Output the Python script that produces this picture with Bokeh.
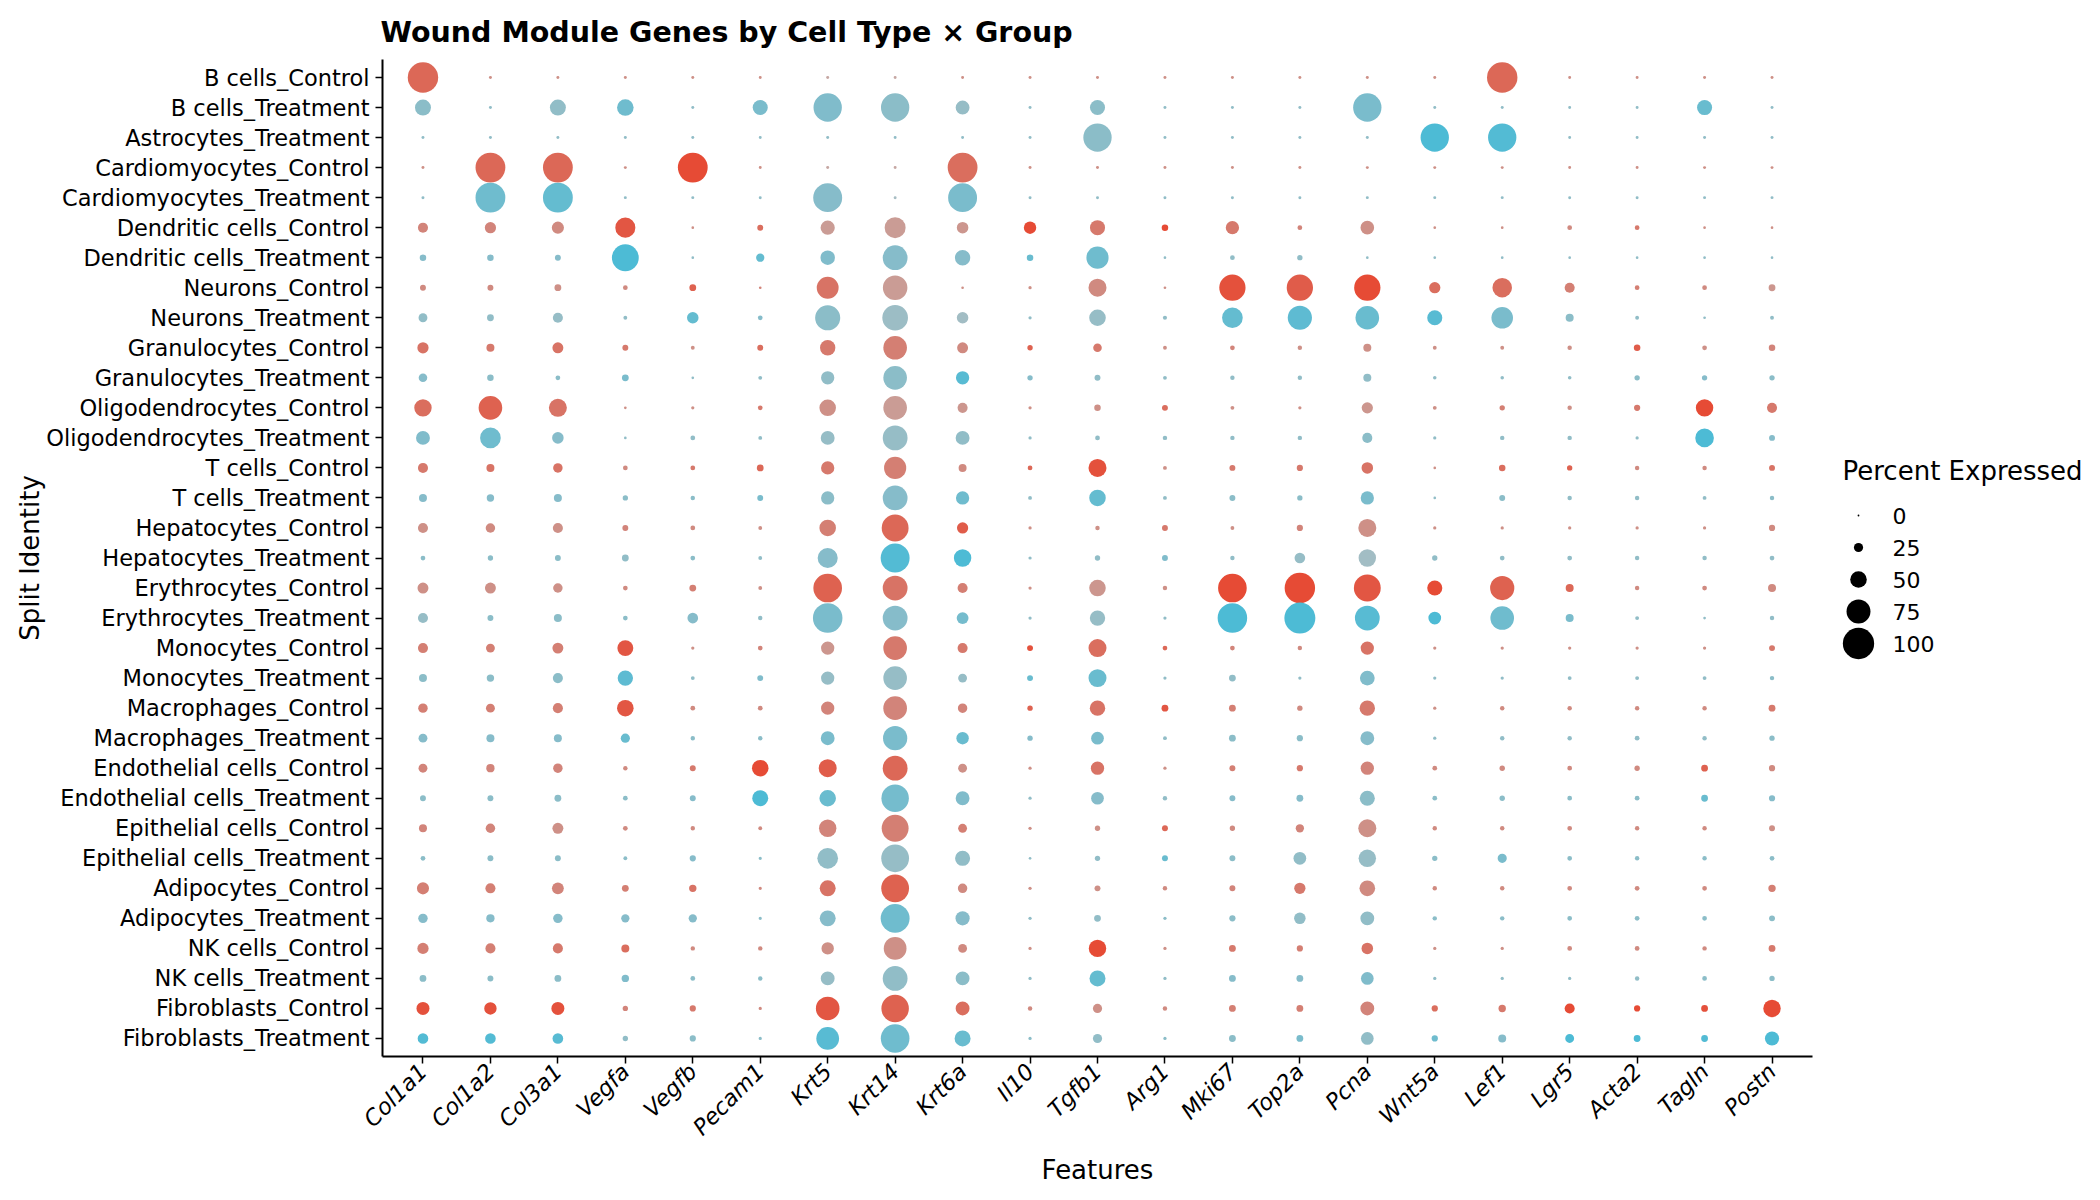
import math
from bokeh.plotting import figure
from bokeh.models import Range1d, FixedTicker, ColumnDataSource
from bokeh.layouts import row
from bokeh.embed import file_html
from bokeh.resources import INLINE

genes = ["Col1a1", "Col1a2", "Col3a1", "Vegfa", "Vegfb", "Pecam1", "Krt5", "Krt14", "Krt6a", "Il10", "Tgfb1",
         "Arg1", "Mki67", "Top2a", "Pcna", "Wnt5a", "Lef1", "Lgr5", "Acta2", "Tagln", "Postn"]

row_labels = ["B cells_Control", "B cells_Treatment", "Astrocytes_Treatment", "Cardiomyocytes_Control",
              "Cardiomyocytes_Treatment", "Dendritic cells_Control", "Dendritic cells_Treatment",
              "Neurons_Control", "Neurons_Treatment", "Granulocytes_Control", "Granulocytes_Treatment",
              "Oligodendrocytes_Control", "Oligodendrocytes_Treatment", "T cells_Control", "T cells_Treatment",
              "Hepatocytes_Control", "Hepatocytes_Treatment", "Erythrocytes_Control", "Erythrocytes_Treatment",
              "Monocytes_Control", "Monocytes_Treatment", "Macrophages_Control", "Macrophages_Treatment",
              "Endothelial cells_Control", "Endothelial cells_Treatment", "Epithelial cells_Control",
              "Epithelial cells_Treatment", "Adipocytes_Control", "Adipocytes_Treatment", "NK cells_Control",
              "NK cells_Treatment", "Fibroblasts_Control", "Fibroblasts_Treatment"]

# percent expressed per row (genes in order above)
pct01 = [97, 4, 4, 4, 4, 4, 4, 4, 4, 4, 4, 4, 4, 4, 4, 4, 97, 4, 4, 4, 4]
pct02 = [48, 4, 48, 50, 4, 45, 90, 90, 41, 4, 45, 4, 4, 4, 90, 4, 4, 4, 4, 45, 4]
pct03 = [4, 4, 4, 4, 4, 4, 4, 4, 4, 4, 90, 4, 4, 4, 4, 90, 90, 4, 4, 4, 4]
pct04 = [4, 95, 95, 4, 95, 4, 4, 4, 95, 4, 4, 4, 4, 4, 4, 4, 4, 4, 4, 4, 4]
pct05 = [4, 95, 95, 4, 4, 4, 92, 4, 92, 4, 4, 4, 4, 4, 4, 4, 4, 4, 4, 4, 4]
pct06 = [28, 32, 35, 62, 3, 14, 42, 65, 33, 36, 45, 16, 39, 10, 40, 3, 3, 10, 10, 3, 3]
pct07 = [16, 16, 14, 85, 3, 22, 43, 78, 46, 16, 69, 3, 10, 12, 3, 3, 3, 3, 3, 3, 3]
pct08 = [14, 14, 17, 10, 17, 3, 68, 77, 3, 5, 55, 3, 83, 83, 83, 32, 60, 28, 10, 10, 17]
pct09 = [24, 17, 28, 7, 33, 10, 79, 81, 33, 5, 50, 8, 64, 76, 74, 45, 67, 21, 7, 3, 7]
pct10 = [32, 21, 31, 14, 7, 14, 46, 74, 31, 12, 23, 7, 10, 9, 21, 7, 7, 9, 16, 10, 16]
pct11 = [23, 16, 10, 17, 3, 7, 39, 74, 39, 12, 14, 7, 9, 9, 21, 6, 6, 6, 12, 12, 12]
pct12 = [53, 74, 55, 3, 5, 10, 50, 74, 28, 5, 16, 14, 7, 5, 32, 7, 12, 9, 15, 53, 28]
pct13 = [41, 64, 33, 3, 10, 7, 41, 78, 41, 5, 10, 9, 9, 9, 28, 5, 9, 9, 5, 57, 14]
pct14 = [28, 21, 26, 10, 10, 17, 39, 69, 21, 10, 55, 7, 14, 15, 33, 3, 16, 12, 9, 9, 14]
pct15 = [21, 19, 21, 12, 9, 14, 39, 78, 39, 7, 50, 7, 14, 12, 39, 3, 14, 9, 9, 7, 9]
pct16 = [28, 26, 28, 14, 10, 7, 50, 85, 32, 5, 9, 14, 7, 15, 55, 5, 5, 5, 5, 5, 15]
pct17 = [10, 12, 14, 17, 10, 7, 62, 92, 53, 5, 12, 14, 9, 30, 53, 12, 10, 10, 9, 9, 10]
pct18 = [31, 31, 26, 10, 17, 7, 91, 78, 28, 5, 50, 9, 91, 97, 85, 45, 76, 21, 9, 10, 21]
pct19 = [28, 14, 21, 10, 30, 9, 94, 78, 34, 5, 46, 5, 94, 99, 78, 37, 74, 21, 7, 3, 9]
pct20 = [28, 24, 31, 48, 5, 10, 39, 74, 28, 14, 55, 10, 10, 9, 39, 5, 5, 5, 5, 5, 14]
pct21 = [21, 19, 28, 46, 7, 14, 39, 74, 24, 14, 55, 5, 17, 5, 44, 5, 5, 7, 7, 7, 9]
pct22 = [26, 24, 28, 50, 10, 10, 39, 74, 26, 12, 46, 17, 17, 12, 46, 5, 9, 9, 9, 9, 17]
pct23 = [24, 21, 21, 25, 9, 9, 41, 76, 36, 12, 37, 7, 17, 15, 41, 5, 9, 9, 10, 9, 12]
pct24 = [24, 22, 26, 9, 14, 50, 55, 78, 24, 5, 39, 5, 14, 15, 39, 10, 12, 10, 12, 17, 15]
pct25 = [14, 14, 17, 10, 14, 48, 50, 87, 41, 5, 37, 9, 14, 17, 45, 10, 12, 10, 10, 17, 15]
pct26 = [21, 26, 31, 10, 9, 7, 53, 85, 24, 5, 12, 14, 12, 22, 55, 9, 9, 10, 9, 9, 14]
pct27 = [10, 14, 14, 7, 15, 5, 64, 88, 45, 3, 12, 14, 14, 37, 53, 12, 25, 10, 9, 9, 10]
pct28 = [35, 28, 34, 17, 19, 5, 48, 88, 26, 5, 14, 9, 14, 32, 47, 9, 9, 10, 10, 10, 19]
pct29 = [26, 22, 26, 22, 22, 5, 48, 92, 42, 5, 17, 5, 15, 33, 41, 9, 9, 10, 10, 10, 14]
pct30 = [32, 28, 28, 21, 9, 9, 36, 71, 24, 5, 53, 5, 17, 15, 33, 5, 5, 10, 10, 9, 17]
pct31 = [17, 14, 17, 19, 10, 9, 41, 78, 41, 5, 48, 5, 17, 17, 37, 5, 5, 5, 9, 10, 12]
pct32 = [38, 36, 38, 12, 15, 5, 74, 87, 41, 9, 25, 9, 17, 17, 41, 15, 19, 28, 15, 17, 53]
pct33 = [30, 30, 30, 12, 15, 5, 71, 91, 48, 5, 25, 5, 17, 17, 37, 15, 21, 24, 17, 17, 42]

# scaled average expression (0 = grey, 10 = full group colour)
exp01 = [7.5, 4, 4, 4, 4, 4, 2, 2, 4, 4, 4, 4, 4, 4, 4, 4, 7.5, 4, 4, 4, 4]
exp02 = [4.5, 4, 4, 7, 4, 6, 5.5, 4.5, 3.5, 4, 4.5, 4, 4, 4, 6, 4, 4, 4, 4, 7.5, 4]
exp03 = [4, 4, 4, 4, 4, 4, 4, 4, 4, 4, 4.5, 4, 4, 4, 4, 10, 9.5, 4, 4, 4, 4]
exp04 = [4, 7.5, 7.5, 4, 10, 4, 2, 2, 7, 4, 4, 4, 4, 4, 4, 4, 4, 4, 4, 4, 4]
exp05 = [4, 7, 8, 4, 4, 4, 5, 2, 6, 4, 4, 4, 4, 4, 4, 4, 4, 4, 4, 4, 4]
exp06 = [5, 5, 4.5, 9, 4, 7, 3, 3, 3.5, 10, 6, 10, 6, 5, 4, 4, 4, 4.5, 6, 4, 4]
exp07 = [5, 5, 5, 10, 4, 8, 5.5, 5, 5, 7.5, 7, 4, 4, 4, 4, 4, 4, 4, 4, 4, 4]
exp08 = [4.5, 4.5, 4, 4.5, 8, 5, 6.5, 3, 4, 4, 4.5, 4, 9.5, 8.5, 10, 7, 7, 5.5, 5.5, 4.5, 3.5]
exp09 = [4, 4, 3.5, 4, 8, 5, 4.5, 3, 2.5, 4, 3.5, 4, 8, 8.5, 7.5, 9, 6, 4.5, 4, 4, 4]
exp10 = [6.5, 6, 6.5, 6, 4, 7, 6, 5.5, 4.5, 8, 6, 4, 5, 4, 4, 4, 4, 4, 8.5, 4, 5]
exp11 = [5, 4.5, 4.5, 6, 4, 4, 4, 4.5, 9, 5, 4, 4, 4, 4, 4, 4, 4, 4, 4.5, 5, 4.5]
exp12 = [7, 8, 6.5, 4, 4, 6, 4, 3, 3.5, 4, 4, 7, 4, 4, 3.5, 4, 5.5, 4, 6, 10, 6]
exp13 = [5.5, 7, 5, 4, 4, 4, 3.5, 3.5, 4, 4, 4, 4, 4, 4, 4.5, 4, 4, 4, 4, 10, 5]
exp14 = [6, 6.5, 6.5, 4.5, 6, 7.5, 6, 5.5, 4.5, 7.5, 9.5, 4, 6, 6, 6.5, 4, 7, 8, 4.5, 4.5, 6.5]
exp15 = [5, 5, 5, 4.5, 4.5, 6, 4.5, 5, 7, 4, 8, 4, 4.5, 4.5, 6, 4, 4.5, 4, 4, 4, 4.5]
exp16 = [4, 4.5, 4, 5, 4.5, 4, 5.5, 7.5, 8.5, 4, 4, 6, 4, 5, 4, 4, 4, 4, 4, 4, 4.5]
exp17 = [4.5, 4.5, 4.5, 4, 4.5, 4, 5, 9.5, 10, 4, 4, 5.5, 4, 3.5, 2.5, 4, 4, 4, 4, 4, 4]
exp18 = [4, 4, 4, 4.5, 5.5, 4, 8, 6.5, 5.5, 4, 3.5, 4, 10, 10, 9, 10, 8, 7.5, 4.5, 4.5, 4.5]
exp19 = [3.5, 4.5, 4.5, 4.5, 5, 4, 6, 5, 6.5, 4, 3.5, 4, 10, 10, 9, 10, 7, 6, 4, 4, 4]
exp20 = [5.5, 5.5, 5.5, 9, 4, 5, 3.5, 6, 6, 9.5, 7, 7.5, 5, 4.5, 6.5, 4, 4, 4, 4, 4, 6]
exp21 = [4.5, 4.5, 4.5, 8.5, 4, 5.5, 3.5, 3.5, 3.5, 7.5, 7.5, 4, 4, 4, 5.5, 4, 4, 4, 4, 4, 4.5]
exp22 = [5.5, 5.5, 5.5, 9, 4.5, 4.5, 5, 5, 5, 8, 6.5, 9, 5.5, 4.5, 6, 4, 4.5, 4.5, 4.5, 4.5, 6]
exp23 = [5, 5, 5, 7.5, 4.5, 4.5, 6, 6, 7.5, 5, 6, 4, 4.5, 4.5, 5, 4, 4, 4, 4, 4, 4.5]
exp24 = [5, 5, 5, 4.5, 6, 10, 8.5, 7.5, 4, 4, 6.5, 4, 5.5, 6, 5, 4.5, 4.5, 4.5, 4.5, 8, 4.5]
exp25 = [4.5, 4.5, 4.5, 4.5, 5, 10, 7.5, 6.5, 5.5, 4, 5, 4, 5, 5, 4.5, 4.5, 4.5, 4.5, 4.5, 7.5, 5]
exp26 = [5, 5, 4, 4.5, 4.5, 4.5, 5, 5.5, 5.5, 4, 4, 7.5, 4.5, 5, 4, 4.5, 4.5, 4.5, 4.5, 4.5, 4]
exp27 = [4.5, 4.5, 4.5, 4.5, 5, 4.5, 4, 3.5, 4, 4, 4, 7.5, 4.5, 4, 3.5, 4.5, 6, 4.5, 4.5, 4.5, 4.5]
exp28 = [5.5, 5.5, 5, 5.5, 6.5, 4.5, 6.5, 8, 4.5, 4, 4, 4.5, 5, 6, 4.5, 4.5, 4.5, 4.5, 4.5, 4.5, 5.5]
exp29 = [5, 5, 5, 5, 5, 4.5, 5, 7, 5, 4, 4, 4.5, 4.5, 4, 4, 4.5, 4.5, 4.5, 4.5, 4.5, 4.5]
exp30 = [5.5, 5.5, 6, 7, 4.5, 4.5, 4, 4, 4.5, 4, 10, 4, 6, 5.5, 6.5, 4, 4, 4.5, 4.5, 4.5, 6]
exp31 = [4.5, 4.5, 4.5, 5.5, 4.5, 4.5, 3.5, 4, 4.5, 4, 8, 4, 5, 5, 5.5, 4, 4, 4, 4, 4.5, 4.5]
exp32 = [9.5, 9.5, 9.5, 5, 6, 4.5, 9, 8, 7, 4.5, 4, 4.5, 5.5, 5.5, 5, 7, 6, 10, 10, 9.5, 10]
exp33 = [9.5, 9.5, 9, 4, 4.5, 4.5, 9, 7, 7.5, 4.5, 4, 4.5, 4.5, 6, 4, 7, 5, 10, 10, 9.5, 10]

pct_rows = [pct01, pct02, pct03, pct04, pct05, pct06, pct07, pct08, pct09, pct10, pct11, pct12, pct13,
            pct14, pct15, pct16, pct17, pct18, pct19, pct20, pct21, pct22, pct23, pct24, pct25, pct26,
            pct27, pct28, pct29, pct30, pct31, pct32, pct33]
exp_rows = [exp01, exp02, exp03, exp04, exp05, exp06, exp07, exp08, exp09, exp10, exp11, exp12, exp13,
            exp14, exp15, exp16, exp17, exp18, exp19, exp20, exp21, exp22, exp23, exp24, exp25, exp26,
            exp27, exp28, exp29, exp30, exp31, exp32, exp33]

legend_values = [0, 25, 50, 75, 100]

GREY = (190, 190, 190)
GROUP_COLOR = {"Control": (230, 75, 53), "Treatment": (77, 187, 213)}
FONT = "DejaVu Sans"

FRAME_TOP, FRAME_BOTTOM = 59, 1056


def dot_size(p):
    return 1.8 + 0.295 * p


def mix(group, e):
    t = max(0.0, min(1.0, e / 10.0))
    c = GROUP_COLOR[group]
    r, g, b = (round(GREY[k] + t * (c[k] - GREY[k])) for k in range(3))
    return "#%02x%02x%02x" % (r, g, b)


xs, ys, sizes, colors = [], [], [], []
for i, lab in enumerate(row_labels):
    group = lab.rsplit("_", 1)[1]
    for j, g in enumerate(genes):
        xs.append(j + 1)
        ys.append(i + 1)
        sizes.append(dot_size(pct_rows[i][j]))
        colors.append(mix(group, exp_rows[i][j]))

src = ColumnDataSource(dict(x=xs, y=ys, size=sizes, color=colors))

p = figure(width=1830, height=1200, output_backend="svg", toolbar_location=None,
           x_range=Range1d(0.4, len(genes) + 0.6), y_range=Range1d(len(row_labels) + 0.6, 0.4),
           min_border_left=382, min_border_right=18, min_border_top=FRAME_TOP,
           min_border_bottom=1200 - FRAME_BOTTOM,
           title="Wound Module Genes by Cell Type \u00d7 Group")
p.scatter("x", "y", size="size", fill_color="color", line_color=None, source=src)

p.title.text_font = FONT
p.title.text_font_size = "28.5px"
p.title.text_font_style = "bold"
p.title.text_color = "black"
p.title.align = "left"
p.title.standoff = 22
p.title.offset = -2

p.xgrid.visible = False
p.ygrid.visible = False
p.outline_line_color = None
p.background_fill_color = "white"
p.border_fill_color = "white"

p.xaxis.ticker = FixedTicker(ticks=list(range(1, len(genes) + 1)))
p.xaxis.major_label_overrides = {i + 1: g for i, g in enumerate(genes)}
p.yaxis.ticker = FixedTicker(ticks=list(range(1, len(row_labels) + 1)))
p.yaxis.major_label_overrides = {i + 1: r for i, r in enumerate(row_labels)}

for ax in (p.xaxis, p.yaxis):
    ax.axis_line_color = "black"
    ax.axis_line_width = 2
    ax.major_tick_line_color = "black"
    ax.major_tick_line_width = 1.5
    ax.major_tick_out = 7
    ax.major_tick_in = 0
    ax.minor_tick_line_color = None
    ax.major_label_text_font = FONT
    ax.major_label_text_font_size = "22.5px"
    ax.major_label_text_color = "black"
    ax.axis_label_text_font = FONT
    ax.axis_label_text_font_size = "26px"
    ax.axis_label_text_font_style = "normal"
    ax.axis_label_text_color = "black"

p.xaxis.axis_label = "Features"
p.yaxis.axis_label = "Split Identity"
p.xaxis.major_label_orientation = math.pi / 4
p.xaxis.major_label_text_font_style = "italic"
p.xaxis.major_label_standoff = 4
p.yaxis.major_label_standoff = 6
p.yaxis.axis_label_standoff = -2
p.xaxis.axis_label_standoff = 3

# size legend panel (frame aligned with the main plot frame; y in page pixels)
leg = figure(width=270, height=1200, output_backend="svg", toolbar_location=None,
             x_range=Range1d(1830, 2100), y_range=Range1d(FRAME_BOTTOM, FRAME_TOP),
             x_axis_type=None, y_axis_type=None,
             min_border_left=0, min_border_right=0, min_border_top=FRAME_TOP,
             min_border_bottom=1200 - FRAME_BOTTOM)
leg.xgrid.visible = False
leg.ygrid.visible = False
leg.outline_line_color = None
leg.background_fill_color = "white"
leg.border_fill_color = "white"

ly = [515 + 32 * k for k in range(len(legend_values))]
leg.scatter(x=[1858] * len(legend_values), y=ly, size=[dot_size(v) for v in legend_values],
            fill_color="black", line_color=None)
leg.text(x=[1892] * len(legend_values), y=ly, text=[str(v) for v in legend_values],
         text_font_size="22px", text_baseline="middle", text_align="left", text_color="black",
         text_font={"value": FONT})
leg.text(x=[1842], y=[470], text=["Percent Expressed"], text_font_size="26px", text_baseline="middle",
         text_align="left", text_color="black", text_font={"value": FONT})

layout = row(p, leg)
open("out.html", "w").write(file_html(layout, INLINE))
